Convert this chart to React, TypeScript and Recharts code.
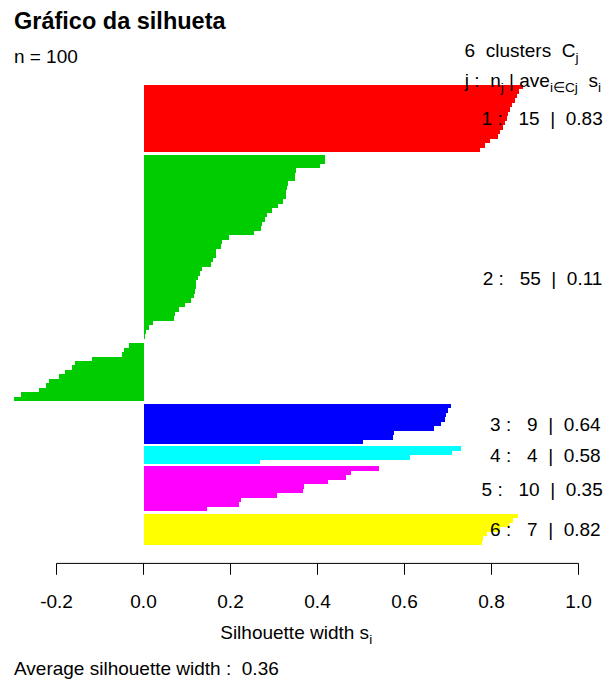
import { BarChart, Bar, Cell, XAxis, YAxis, ReferenceLine } from "recharts";

// Silhouette plot: one horizontal bar per observation, grouped by cluster,
// sorted within each cluster, with half-bar gaps between clusters.

const clusterColors = ["#FF0000", "#00CD00", "#0000FF", "#00FFFF", "#FF00FF", "#FFFF00"];

const silCluster1 = [0.872, 0.863, 0.859, 0.854, 0.847, 0.842, 0.838, 0.836, 0.831, 0.826, 0.82, 0.815, 0.797, 0.785, 0.774];
const silCluster2 = [
  0.417, 0.417, 0.406, 0.35, 0.348, 0.348, 0.331, 0.329, 0.327, 0.327,
  0.321, 0.309, 0.295, 0.284, 0.279, 0.272, 0.269, 0.254, 0.197, 0.18,
  0.178, 0.167, 0.167, 0.16, 0.155, 0.134, 0.13, 0.125, 0.121, 0.121,
  0.118, 0.116, 0.109, 0.095, 0.082, 0.072, 0.07, 0.021, 0.013, 0.006,
  0.003, 0.0, -0.033, -0.045, -0.049, -0.118, -0.157, -0.164, -0.18, -0.194,
  -0.217, -0.224, -0.24, -0.282, -0.298,
];
const silCluster3 = [0.706, 0.7, 0.695, 0.692, 0.685, 0.668, 0.575, 0.574, 0.505];
const silCluster4 = [0.73, 0.709, 0.613, 0.268];
const silCluster5 = [0.541, 0.477, 0.466, 0.424, 0.369, 0.367, 0.307, 0.224, 0.22, 0.146];
const silCluster6 = [0.86, 0.85, 0.84, 0.82, 0.79, 0.78, 0.777];

const clusters = [silCluster1, silCluster2, silCluster3, silCluster4, silCluster5, silCluster6];
const xTicks = [-0.2, 0, 0.2, 0.4, 0.6, 0.8, 1.0];

const W = 609;
const H = 681;
const PLOT_LEFT = 13.9;
const PLOT_RIGHT = 578.5;
const PLOT_TOP = 66.6;
const PLOT_BOTTOM = 563.4;
const AXIS_H = 40;
const FONT = "'Liberation Sans', Arial, sans-serif";
const FS = 19;

type Row = { pos: number; s: number; cluster: number };

const rows: Row[] = [];
let idx = 0;
clusters.forEach((vals, c) => {
  vals.forEach((v) => {
    rows.push({ pos: idx + 0.5 + 0.5 * c, s: v, cluster: c });
    idx++;
  });
});

const n = rows.length;
const span = n + 0.5 * (clusters.length - 1);
const yDomain: [number, number] = [-0.04 * span, span * 1.04];
const pxPerUnit = (PLOT_BOTTOM - PLOT_TOP) / (yDomain[1] - yDomain[0]);
const yPx = (u: number) => PLOT_TOP + (u - yDomain[0]) * pxPerUnit;
const minS = Math.min(0, ...rows.map((r) => r.s));

const mean = (a: number[]) => a.reduce((p, q) => p + q, 0) / a.length;
const avgAll = mean(rows.map((r) => r.s));

function textWidth(txt: string, font: string) {
  const ctx = document.createElement("canvas").getContext("2d");
  if (!ctx) return txt.length * FS * 0.5;
  ctx.font = font;
  return ctx.measureText(txt).width;
}

function ClusterLabels() {
  return (
    <>
      {clusters.map((vals, c) => {
        const ps = rows.filter((r) => r.cluster === c).map((r) => r.pos);
        const yc = yPx(mean(ps));
        const label = `${c + 1} :   ${vals.length}  |  ${mean(vals).toFixed(2)}`;
        const w = textWidth(label, `${FS}px ${FONT}`);
        return (
          <text key={c} x={PLOT_RIGHT - 0.8 * w} y={yc + 0.36 * FS} fontSize={FS} style={{ whiteSpace: "pre" }}>
            {label}
          </text>
        );
      })}
    </>
  );
}

export default function App() {
  const sub = FS * 0.72;
  return (
    <div style={{ position: "absolute", left: 0, top: 0, width: W, height: H, background: "#fff" }}>
      <style>{`.sil .recharts-bar-rectangle path, .sil .recharts-bar-rectangle rect { shape-rendering: crispEdges; }`}</style>
      <div className="sil" style={{ position: "absolute", left: 0, top: 0 }}>
        <BarChart
          width={W}
          height={H}
          data={rows}
          layout="vertical"
          margin={{ top: PLOT_TOP, right: W - PLOT_RIGHT, bottom: H - PLOT_BOTTOM - AXIS_H, left: PLOT_LEFT }}
        >
          <XAxis
            type="number"
            domain={[minS, 1]}
            allowDataOverflow
            ticks={xTicks}
            interval={0}
            tickFormatter={(v: number) => v.toFixed(1)}
            axisLine={false}
            tickLine={{ stroke: "#000" }}
            tickSize={11.4}
            tickMargin={20}
            height={AXIS_H}
            tick={{ fill: "#000", fontSize: FS, fontFamily: FONT }}
          />
          <YAxis type="number" dataKey="pos" domain={yDomain} hide allowDataOverflow />
          <ReferenceLine
            segment={[
              { x: -0.2, y: yDomain[1] },
              { x: 1, y: yDomain[1] },
            ]}
            stroke="#000"
            strokeWidth={1}
            ifOverflow="visible"
          />
          {/* just under the band width so Recharts keeps the exact size */}
          <Bar dataKey="s" barSize={pxPerUnit * 0.9999} isAnimationActive={false}>
            {rows.map((r, i) => (
              <Cell key={i} fill={clusterColors[r.cluster]} />
            ))}
          </Bar>
        </BarChart>
      </div>
      <svg width={W} height={H} style={{ position: "absolute", left: 0, top: 0, pointerEvents: "none" }} fontFamily={FONT} fill="#000">
        <text x={14} y={29} fontSize={23.5} fontWeight="bold">
          Gráfico da silhueta
        </text>
        <text x={PLOT_LEFT} y={63} fontSize={FS}>{`n = ${n}`}</text>
        <text x={PLOT_RIGHT} y={56.7} fontSize={FS} textAnchor="end" style={{ whiteSpace: "pre" }}>
          {`${clusters.length}  clusters  C`}
          <tspan fontSize={sub} dy={5}>j</tspan>
        </text>
        <text x={601} y={86.5} fontSize={FS} textAnchor="end" style={{ whiteSpace: "pre" }}>
          {"j :  n"}
          <tspan fontSize={sub} dy={5}>j</tspan>
          <tspan dy={-5}>{" | ave"}</tspan>
          <tspan fontSize={sub} dy={5}>{"i\u2208Cj"}</tspan>
          <tspan dy={-5}>{"  s"}</tspan>
          <tspan fontSize={sub} dy={5}>i</tspan>
        </text>
        <ClusterLabels />
        <text x={(PLOT_LEFT + PLOT_RIGHT) / 2} y={639} fontSize={FS} textAnchor="middle" style={{ whiteSpace: "pre" }}>
          {"Silhouette width s"}
          <tspan fontSize={sub} dy={5}>i</tspan>
        </text>
        <text x={14} y={675} fontSize={FS} style={{ whiteSpace: "pre" }}>
          {`Average silhouette width :  ${avgAll.toFixed(2)}`}
        </text>
      </svg>
    </div>
  );
}
